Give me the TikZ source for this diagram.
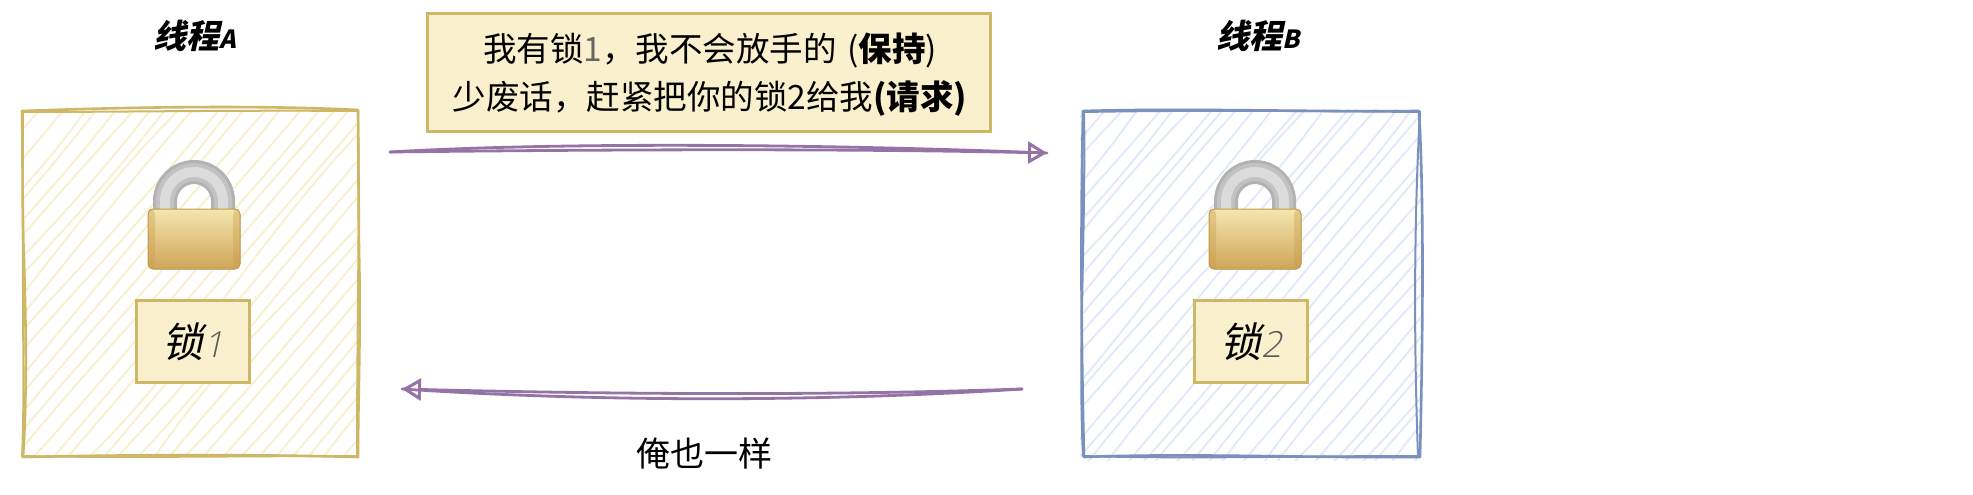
\documentclass[tikz,border=0pt]{standalone}
\usepackage{fontspec}
\setmainfont{Noto Sans CJK SC}
\newfontfamily\slantfont[FakeSlant=0.22]{Noto Sans CJK SC}
\newfontfamily\digitfont[FakeSlant=0.22]{Open Sans Light}
\usetikzlibrary{arrows.meta,shadings}
\definecolor{yelS}{HTML}{CFB865}
\definecolor{yelF}{HTML}{FAF0CD}
\definecolor{yelH}{HTML}{F9EFCC}
\definecolor{bluS}{HTML}{7A91BD}
\definecolor{bluH}{HTML}{DFE9FA}
\definecolor{purp}{HTML}{9673A6}
\definecolor{yelBodyT}{HTML}{F3E6AE}
\definecolor{yelBodyB}{HTML}{D0A55A}
\definecolor{yelBodyE}{HTML}{C79A45}
\tikzset{
  x=1pt,y=-1pt,
  lbl/.style={inner sep=0pt,font=\fontsize{34}{40}\selectfont,text=black},
  headlbl/.style={inner sep=0pt,font=\slantfont\bfseries\fontsize{33}{36}\selectfont},
  notebox/.style={draw=yelS,fill=yelF,line width=2.6pt,inner sep=0pt,align=center},
  sketchbody/.style={inner sep=0pt,minimum width=336pt,minimum height=346pt},
  yelsketch/.style={draw=yelS,line width=2.6pt,line cap=round,line join=round},
  blusketch/.style={draw=bluS,line width=2.6pt,line cap=round,line join=round},
  wire/.style={draw=purp,line width=2.8pt,line cap=round},
  wirehead/.style={wire,-{Triangle[open,length=19pt,width=22pt,line width=3pt]}},
  lock/.pic={
    \draw[line width=24pt,color=black!30] (-29,49) -- (-29,41) arc[start angle=180,end angle=360,x radius=29,y radius=29] -- (29,49);
    \draw[line width=18pt,color=black!24] (-29,49) -- (-29,41) arc[start angle=180,end angle=360,x radius=29,y radius=29] -- (29,49);
    \draw[line width=10pt,color=black!14] (-29,49) -- (-29,41) arc[start angle=180,end angle=360,x radius=29,y radius=29] -- (29,49);
    \fill[rounded corners=5pt,top color=yelBodyT,bottom color=yelBodyB,draw=yelBodyE,line width=1pt] (-46,49) rectangle (46,109);
    \fill[rounded corners=5pt,color=yelBodyE,opacity=.35] (-46,49) rectangle (-39,109);
    \fill[rounded corners=5pt,color=yelBodyE,opacity=.35] (39,49) rectangle (46,109);
  }
}
\begin{document}
\begin{tikzpicture}
\useasboundingbox (0,0) rectangle (1973,495);
\fill[white] (0,0) rectangle (1973,495);
\pgfmathsetseed{1234}
\begin{scope}
\clip (23,111) rectangle (357,456);
\foreach \c in {0,17,...,680}{
  \pgfmathsetmacro{\jx}{rnd*12-6}
  \pgfmathsetmacro{\jy}{rnd*40-20}
  \pgfmathsetmacro{\bend}{rnd*24-12}
  \draw[yelH,line width=1.8pt] (\c-300+\jx,470) .. controls (\c-190+\bend,340+\jy) and (\c-90-\bend,230-\jy) .. (\c+20-\jx,100);
}
\end{scope}
\begin{scope}
\clip (1080,109) rectangle (1421,460);
\foreach \c in {0,17,...,680}{
  \pgfmathsetmacro{\jx}{rnd*12-6}
  \pgfmathsetmacro{\jy}{rnd*40-20}
  \pgfmathsetmacro{\bend}{rnd*24-12}
  \draw[bluH,line width=1.8pt] (1060+\c-300+\jx,470) .. controls (1060+\c-190+\bend,340+\jy) and (1060+\c-90-\bend,230-\jy) .. (1060+\c+20-\jx,100);
}
\end{scope}
\node[sketchbody] (threadA) at (190,283.5) {};
\node[sketchbody] (threadB) at (1251,283.5) {};
\draw[yelsketch] (22,111) .. controls (130,107) and (260,105) .. (358,110) -- (359,250) .. controls (361,330) and (358,400) .. (358,457)
  .. controls (240,454) and (120,455) .. (23,457) .. controls (28,380) and (25,300) .. (24,260) .. controls (22,210) and (23,160) .. (22,111);
\draw[yelsketch,line width=2pt] (23,112) .. controls (120,112) and (240,110) .. (358,111) .. controls (360,200) and (357,330) .. (357,456)
  .. controls (240,456) and (110,458) .. (22,456) .. controls (25,400) and (22,320) .. (23,112);
\draw[blusketch] (1083,111) .. controls (1190,108) and (1300,112) .. (1419,111) .. controls (1424,200) and (1423,330) .. (1420,457)
  .. controls (1300,458) and (1190,453) .. (1084,457) .. controls (1082,380) and (1080,250) .. (1083,111);
\draw[blusketch,line width=2pt] (1084,112) .. controls (1190,110) and (1310,111) .. (1420,112) .. controls (1415,200) and (1413,320) .. (1418,456)
  .. controls (1300,456) and (1190,459) .. (1083,456) .. controls (1078,360) and (1086,220) .. (1084,112);
\pic at (194,160) {lock};
\pic at (1255,160) {lock};
\node[notebox,minimum width=113pt,minimum height=82pt] (lockA) at (193,341.5) {};
\node[notebox,minimum width=113pt,minimum height=82pt] (lockB) at (1251,341.5) {};
\node[inner sep=0pt,anchor=center] (lockAtxt) at (lockA.center) {\slantfont\fontsize{41}{44}\selectfont 锁\digitfont\color{black!65}\fontsize{36}{44}\selectfont 1};
\node[inner sep=0pt,anchor=center] (lockBtxt) at (lockB.center) {\slantfont\fontsize{41}{44}\selectfont 锁\digitfont\color{black!65}\fontsize{36}{44}\selectfont 2};
\node[headlbl] (headA) at (195,36) {线程\fontsize{25}{36}\selectfont A};
\node[headlbl] (headB) at (1258,36) {线程\fontsize{25}{36}\selectfont B};
\node[notebox,minimum width=563pt,minimum height=118pt] (msg) at (709,72.5) {};
\node[inner sep=0pt,align=center,font=\fontsize{33.5}{48}\selectfont] (msgtxt) at (710,74.5)
  {我有锁{\color{black!60}1}，我不会放手的\hspace{3pt} ({\bfseries 保持})\\少废话，赶紧把你的锁2给我{\bfseries (请求)}};
\coordinate (a1) at (390,152);
\coordinate (a2) at (1047,153);
\draw[wire] (a1) .. controls (560,142) and (820,144) .. (a2);
\draw[wirehead] (a1) .. controls (560,150) and (820,148) .. (a2);
\coordinate (b1) at (1022,389);
\coordinate (b2) at (402,389);
\draw[wire] (b1) .. controls (820,402) and (600,402) .. (b2);
\draw[wirehead] (b1) .. controls (820,396) and (600,394) .. (b2);
\node[lbl] (reply) at (704,454) {俺也一样};
\end{tikzpicture}
\end{document}
